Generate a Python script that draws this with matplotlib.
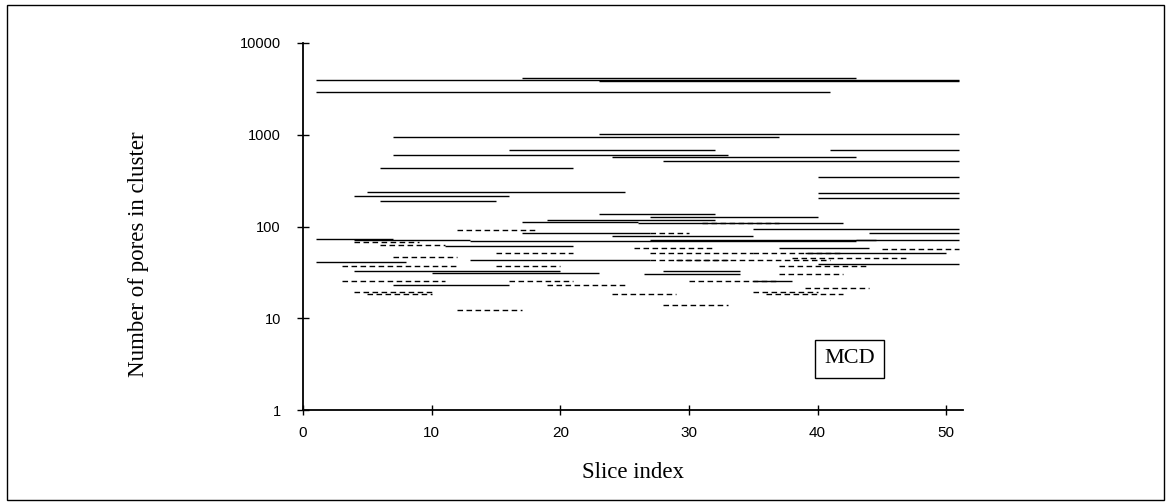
import matplotlib
matplotlib.use("Agg")
import matplotlib.pyplot as plt
from matplotlib.patches import Rectangle

# Cluster lifetimes along the slice stack: (first slice, last slice, pores in cluster)
solid_start = [1, 17, 23, 1, 23, 7, 16, 41, 7, 24, 28, 6, 40, 5, 40, 4, 40, 6,
               23, 27, 19, 17, 26, 35, 17, 44, 24, 1, 4, 13, 43, 27, 11, 37, 39,
               13, 1, 40, 4, 28, 10, 26.5, 35, 7]
solid_end = [51, 43, 51, 41, 51, 37, 32, 51, 33, 43, 51, 21, 51, 25, 51, 16, 51, 15,
             32, 40, 32, 26, 42, 51, 27, 51, 35, 7, 13, 43, 44.5, 51, 21, 44, 50,
             27, 8, 51, 20, 34, 23, 34, 38, 16]
solid_count = [4000, 4200, 3900, 2950, 1030, 940, 680, 680, 600, 575, 520, 430, 345, 240,
               230, 213, 202, 190, 136, 127, 117, 112, 110, 95, 86, 86, 79, 73, 72, 70,
               71, 71, 62, 59, 51, 43, 41, 39.5, 33, 33, 31, 30.5, 25.5, 23]

dashed_start = [31, 12, 27, 4, 6, 25.7, 45, 15, 27, 35, 7, 38, 27, 29, 3, 15, 37,
                37, 3, 16, 30, 19, 39, 4, 35, 5, 24, 36, 28, 12]
dashed_end = [37, 18, 30, 9, 11, 31.8, 51, 21, 35, 42, 12, 47, 33, 41, 12, 20, 44,
              42, 11, 21, 37, 25, 44, 10, 40, 10, 29, 42, 33, 17]
dashed_count = [108, 92, 86, 67, 63, 58, 57, 51, 51, 52, 47, 45, 43, 43.5, 37.5, 37.5,
                37.5, 30.5, 25.5, 25.5, 25.5, 23, 21.5, 19.5, 19.5, 18.3, 18.3, 18.3,
                13.8, 12.2]

y_ticks = [1, 10, 100, 1000, 10000]
x_ticks = [0, 10, 20, 30, 40, 50]

SERIF = ["Liberation Serif", "DejaVu Serif"]
SANS = ["Liberation Sans", "DejaVu Sans"]

fig = plt.figure(figsize=(11.7, 5.04), dpi=100)
ax = fig.add_axes([303 / 1170, 94 / 504, 660 / 1170, 367 / 504])

ax.hlines(solid_count, solid_start, solid_end, colors="black", linewidth=1.0)
ax.hlines(dashed_count, dashed_start, dashed_end, colors="black", linewidth=1.0,
          linestyles=(0, (4, 2.5)))

ax.set_yscale("log")
ax.set_ylim(1, 10000)
ax.set_xlim(0, 51.3)
ax.set_yticks(y_ticks)
ax.set_yticklabels([str(t) for t in y_ticks], family=SANS, fontsize=10.5)
ax.set_xticks(x_ticks)
ax.set_xticklabels([str(t) for t in x_ticks], family=SANS, fontsize=11)
ax.minorticks_off()
ax.tick_params(axis="y", direction="inout", length=8, width=1, pad=12)
ax.tick_params(axis="x", direction="inout", length=7, width=1, pad=8)

for side in ("top", "right"):
    ax.spines[side].set_visible(False)
for side in ("left", "bottom"):
    ax.spines[side].set_linewidth(1.3)

ax.set_xlabel("Slice index", family=SERIF, fontsize=16.5)
ax.xaxis.set_label_coords(0.5, -0.142)
ax.set_ylabel("Number of pores in cluster", family=SERIF, fontsize=16.5)
ax.yaxis.set_label_coords(-0.233, 0.425)

ax.text(42.5, 3.6, "MCD", family=SERIF, fontsize=16, ha="center", va="center",
        bbox=dict(boxstyle="square,pad=0.42", facecolor="white", edgecolor="black",
                  linewidth=1.0))

# Outer frame around the whole figure
fig.patches.append(Rectangle((7 / 1170, 4 / 504), 1157 / 1170, 495 / 504,
                             transform=fig.transFigure, fill=False,
                             edgecolor="black", linewidth=1.0))

fig.savefig("out.png", dpi=100)
